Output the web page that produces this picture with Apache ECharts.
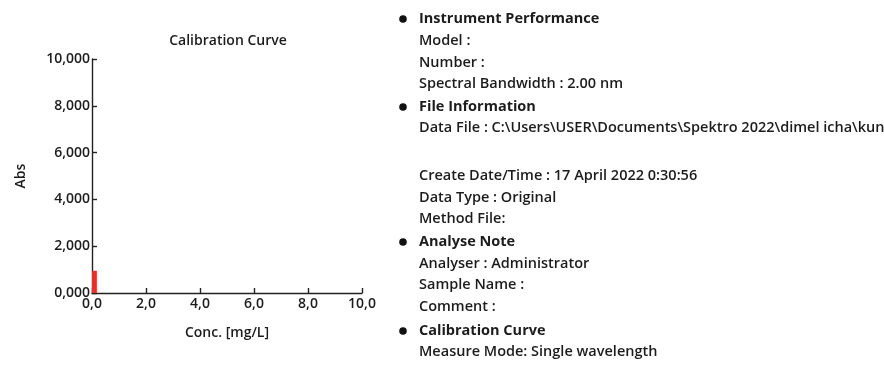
<!DOCTYPE html>
<html>
<head>
<meta charset="utf-8">
<script src="https://cdn.jsdelivr.net/npm/echarts@6/dist/echarts.min.js"></script>
<style>html,body{margin:0;padding:0;background:#fff;}#c{width:884px;height:367px;}</style>
</head>
<body>
<div id="c"></div>
<script>
const chartTitle = 'Calibration Curve';
const xName = 'Conc. [mg/L]';
const yName = 'Abs';
// bar: [conc start, conc end, abs]
const barConcStart = [0.0];
const barConcEnd = [0.18];
const absValues = [0.95];
const infoLines = [
  ['h', 'Instrument Performance', 19],
  ['t', 'Model :', 41],
  ['t', 'Number :', 63],
  ['t', 'Spectral Bandwidth : 2.00 nm', 84],
  ['h', 'File Information', 107],
  ['t', 'Data File : C:\\Users\\USER\\Documents\\Spektro 2022\\dimel icha\\kun', 128],
  ['t', 'Create Date/Time : 17 April 2022 0:30:56', 176],
  ['t', 'Data Type : Original', 198],
  ['t', 'Method File:', 219],
  ['h', 'Analyse Note', 242],
  ['t', 'Analyser : Administrator', 264],
  ['t', 'Sample Name :', 285],
  ['t', 'Comment :', 307],
  ['h', 'Calibration Curve', 331],
  ['t', 'Measure Mode: Single wavelength', 352]
];

const FONT = '"Open Sans", "Noto Sans", sans-serif';
const TXT = '#1c1c1c';
const FS = 14;
const FS_INFO = 14.5;
const FW = 600;
const chart = echarts.init(document.getElementById('c'), null, {renderer: 'canvas'});

const graphics = [];
graphics.push({
  type: 'text', x: 228, y: 41,
  style: {text: chartTitle, font: FW + ' ' + FS + 'px ' + FONT, fill: TXT, align: 'center', verticalAlign: 'middle'}
});
infoLines.forEach(function (l) {
  if (l[0] === 'h') {
    graphics.push({type: 'circle', shape: {cx: 403, cy: l[2], r: 3.8}, style: {fill: '#111'}});
  }
  graphics.push({
    type: 'text', x: 419, y: l[2],
    style: {text: l[1], font: (l[0] === 'h' ? 'bold ' : FW + ' ') + FS_INFO + 'px ' + FONT, fill: TXT, align: 'left', verticalAlign: 'middle'}
  });
});

const data = barConcStart.map(function (c, i) { return [c, barConcEnd[i], absValues[i]]; });

const axisText = {fontFamily: FONT, fontSize: FS, fontWeight: FW, color: TXT};

chart.setOption({
  animation: false,
  backgroundColor: '#fff',
  grid: {left: 92, right: 522, top: 59, bottom: 74, containLabel: false},
  xAxis: {
    type: 'value', min: 0, max: 10, interval: 2,
    name: xName, nameLocation: 'middle', nameGap: 33,
    nameTextStyle: axisText,
    axisLine: {show: true, lineStyle: {color: '#222', width: 1.4}},
    axisTick: {show: true, inside: true, length: 5, lineStyle: {color: '#222', width: 1.4}},
    splitLine: {show: false},
    axisLabel: Object.assign({margin: 4,
      formatter: function (v) { return v.toFixed(1).replace('.', ','); }}, axisText)
  },
  yAxis: {
    type: 'value', min: 0, max: 10, interval: 2,
    name: yName, nameLocation: 'middle', nameGap: 64, nameRotate: 90,
    nameTextStyle: axisText,
    axisLine: {show: true, lineStyle: {color: '#222', width: 1.4}},
    axisTick: {show: true, inside: true, length: 5, lineStyle: {color: '#222', width: 1.4}},
    splitLine: {show: false},
    axisLabel: Object.assign({margin: 2,
      formatter: function (v) { return v.toFixed(3).replace('.', ','); }}, axisText)
  },
  series: [{
    type: 'custom',
    data: data,
    encode: {x: [0, 1], y: 2},
    renderItem: function (params, api) {
      const p0 = api.coord([api.value(0), 0]);
      const p1 = api.coord([api.value(1), api.value(2)]);
      return {
        type: 'rect',
        shape: {x: p0[0], y: p1[1], width: p1[0] - p0[0], height: p0[1] - p1[1]},
        style: {fill: '#e2312a'}
      };
    }
  }],
  graphic: graphics
});
</script>
</body>
</html>
